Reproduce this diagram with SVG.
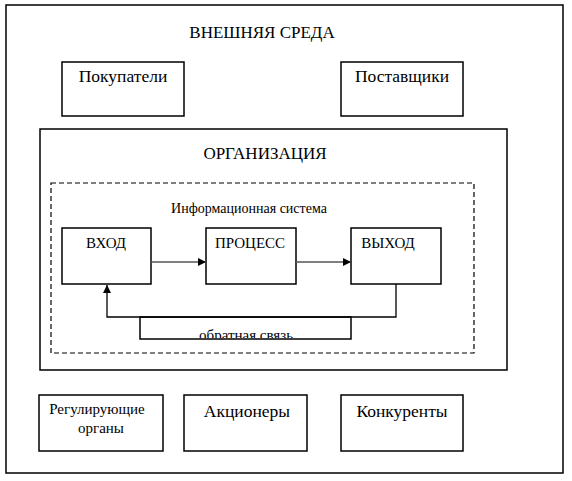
<svg xmlns="http://www.w3.org/2000/svg" width="572" height="481" viewBox="0 0 572 481" font-family="'Liberation Serif', 'DejaVu Serif', 'Times New Roman', serif">
<style>
.box{fill:#fff;stroke:#000;stroke-width:1.5}
.t{font-family:'Liberation Serif','DejaVu Serif','Times New Roman',serif;fill:#000;text-anchor:middle}
.hd{font-size:17px}
.big{font-size:17.5px}
.mid{font-size:15px}
.sm{font-size:14px}
.ln{fill:none;stroke:#555;stroke-width:1.3}
.fb{fill:none;stroke:#000;stroke-width:1.3}
</style>
<defs>
<marker id="ah" viewBox="0 0 10 10" refX="10" refY="5" markerWidth="8" markerHeight="8" markerUnits="userSpaceOnUse" orient="auto">
<path d="M0,0 L10,5 L0,10 z" fill="#000"/>
</marker>
<clipPath id="fbclip"><rect x="140" y="317" width="211" height="21"/></clipPath>
</defs>
<g id="env">
<rect class="box" x="6" y="5" width="557" height="468"/>
<text class="t hd" x="262" y="38">ВНЕШНЯЯ СРЕДА</text>
</g>
<g id="buyers">
<rect class="box" x="62" y="62" width="122" height="54"/>
<text class="t big" x="123" y="82">Покупатели</text>
</g>
<g id="suppliers">
<rect class="box" x="341" y="62" width="122" height="54"/>
<text class="t big" x="402" y="82">Поставщики</text>
</g>
<g id="org">
<rect class="box" x="40" y="129" width="467" height="241"/>
<text class="t hd" x="265" y="159">ОРГАНИЗАЦИЯ</text>
</g>
<g id="infosys">
<rect x="51" y="183" width="423" height="170" fill="none" stroke="#000" stroke-width="1.2" stroke-dasharray="5,3"/>
<text class="t sm" x="249" y="213">Информационная система</text>
</g>
<g id="input">
<rect class="box" x="62" y="228" width="89" height="56"/>
<text class="t mid" x="106" y="248">ВХОД</text>
</g>
<g id="process">
<rect class="box" x="206" y="228" width="90" height="56"/>
<text class="t mid" x="250" y="248">ПРОЦЕСС</text>
</g>
<g id="output">
<rect class="box" x="351" y="228" width="90" height="56"/>
<text class="t mid" x="388" y="248">ВЫХОД</text>
</g>
<g id="feedback">
<rect class="box" x="140" y="317" width="211" height="22"/>
<text class="t mid" x="246" y="340" clip-path="url(#fbclip)">обратная связь</text>
</g>
<g id="connectors">
<line class="ln" x1="151" y1="262" x2="206" y2="262" marker-end="url(#ah)"/>
<line class="ln" x1="296" y1="262" x2="351" y2="262" marker-end="url(#ah)"/>
<polyline class="fb" points="396,284 396,317 107,317 107,285" marker-end="url(#ah)"/>
</g>
<g id="regulators">
<rect class="box" x="39" y="395" width="124" height="56"/>
<text class="t mid" x="97" y="414">Регулирующие</text>
<text class="t mid" x="101" y="433">органы</text>
</g>
<g id="shareholders">
<rect class="box" x="184" y="395" width="123" height="56"/>
<text class="t big" x="247" y="417">Акционеры</text>
</g>
<g id="competitors">
<rect class="box" x="341" y="395" width="122" height="56"/>
<text class="t big" x="402" y="417">Конкуренты</text>
</g>
</svg>
